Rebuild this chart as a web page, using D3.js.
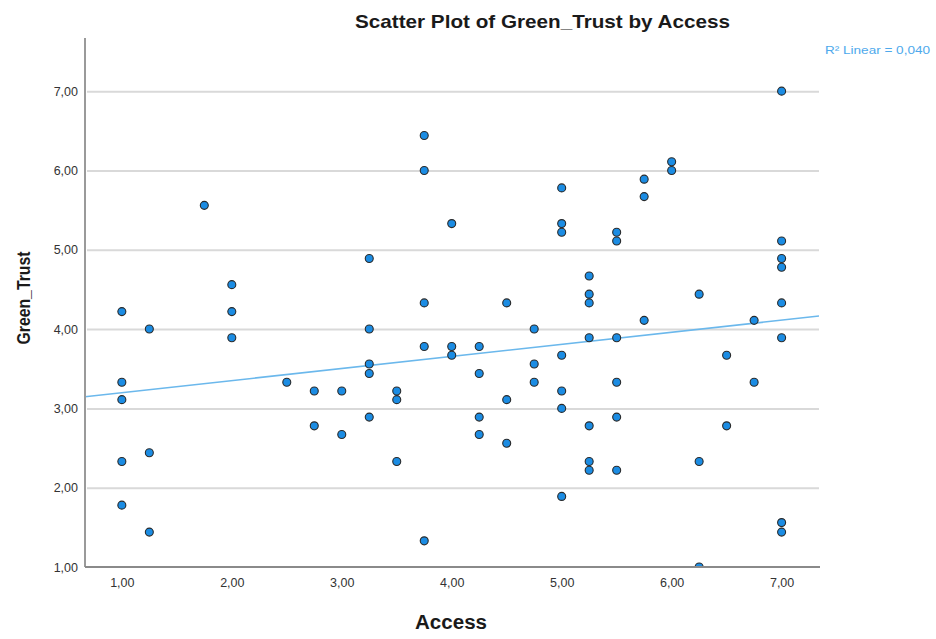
<!DOCTYPE html>
<html>
<head>
<meta charset="utf-8">
<script src="https://cdn.jsdelivr.net/npm/d3@7"></script>
<style>
  html, body { margin: 0; padding: 0; background: #fff; }
  svg { display: block; font-family: "Liberation Sans", Arial, sans-serif; }
</style>
</head>
<body>
<svg id="chart" width="936" height="639"></svg>
<script>
// ---- data ----
const access = [
  1.00, 1.00, 1.00, 1.00, 1.00,
  1.25, 1.25, 1.25,
  1.75,
  2.00, 2.00, 2.00,
  2.50,
  2.75, 2.75,
  3.00, 3.00,
  3.25, 3.25, 3.25, 3.25, 3.25,
  3.50, 3.50, 3.50,
  3.75, 3.75, 3.75, 3.75, 3.75,
  4.00, 4.00, 4.00,
  4.25, 4.25, 4.25, 4.25,
  4.50, 4.50, 4.50,
  4.75, 4.75, 4.75,
  5.00, 5.00, 5.00, 5.00, 5.00, 5.00, 5.00,
  5.25, 5.25, 5.25, 5.25, 5.25, 5.25, 5.25,
  5.50, 5.50, 5.50, 5.50, 5.50, 5.50,
  5.75, 5.75, 5.75,
  6.00, 6.00,
  6.25, 6.25, 6.25,
  6.50, 6.50,
  6.75, 6.75,
  7.00, 7.00, 7.00, 7.00, 7.00, 7.00, 7.00, 7.00
];
const greenTrust = [
  4.22, 3.33, 3.11, 2.33, 1.78,
  4.00, 2.44, 1.44,
  5.56,
  4.56, 4.22, 3.89,
  3.33,
  3.22, 2.78,
  3.22, 2.67,
  4.89, 4.00, 3.56, 3.44, 2.89,
  3.22, 3.11, 2.33,
  6.44, 6.00, 4.33, 3.78, 1.33,
  5.33, 3.78, 3.67,
  3.78, 3.44, 2.89, 2.67,
  4.33, 3.11, 2.56,
  4.00, 3.56, 3.33,
  5.78, 5.33, 5.22, 3.67, 3.22, 3.00, 1.89,
  4.67, 4.44, 4.33, 3.89, 2.78, 2.33, 2.22,
  5.22, 5.11, 3.89, 3.33, 2.89, 2.22,
  5.89, 5.67, 4.11,
  6.11, 6.00,
  4.44, 2.33, 1.00,
  3.67, 2.78,
  4.11, 3.33,
  7.00, 5.11, 4.89, 4.78, 4.33, 3.89, 1.56, 1.44
];
const xTickValues = [1, 2, 3, 4, 5, 6, 7];
const xTickLabels = ["1,00", "2,00", "3,00", "4,00", "5,00", "6,00", "7,00"];
const yTickValues = [1, 2, 3, 4, 5, 6, 7];
const yTickLabels = ["1,00", "2,00", "3,00", "4,00", "5,00", "6,00", "7,00"];
const fitIntercept = 3.045;
const fitSlope = 0.1525;
const fitLabel = "R\u00B2 Linear = 0,040";
const titleText = "Scatter Plot of Green_Trust by Access";
const xLabel = "Access";
const yLabel = "Green_Trust";

// ---- layout ----
const svg = d3.select("#chart");
const pLeft = 85, pRight = 819, pTop = 38, pBottom = 567;
const xDomain = [0.665, 7.34];
const yDomain = [1, 7.67];

const x = d3.scaleLinear().domain(xDomain).range([pLeft, pRight]);
const y = d3.scaleLinear().domain(yDomain).range([pBottom, pTop]);

// gridlines
const grid = svg.append("g")
  .attr("transform", `translate(${pLeft + 2},0)`)
  .call(d3.axisLeft(y).tickValues(yTickValues.filter(v => v > yDomain[0]))
        .tickSize(-(pRight - pLeft - 2)).tickFormat(""));
grid.select(".domain").remove();
grid.selectAll("line").attr("stroke", "#d9d9d9").attr("stroke-width", 2);

// y tick labels
const yAx = svg.append("g")
  .attr("transform", `translate(${pLeft},0)`)
  .call(d3.axisLeft(y).tickValues(yTickValues).tickSize(0).tickPadding(7)
        .tickFormat((d, i) => yTickLabels[i]));
yAx.select(".domain").remove();
yAx.selectAll("text").attr("font-size", 12.5).attr("fill", "#333")
   .attr("font-family", "Liberation Sans, Arial, sans-serif");

// x tick labels
const xAx = svg.append("g")
  .attr("transform", `translate(0,${pBottom})`)
  .call(d3.axisBottom(x).tickValues(xTickValues).tickSize(0).tickPadding(11)
        .tickFormat((d, i) => xTickLabels[i]));
xAx.select(".domain").remove();
xAx.selectAll("text").attr("font-size", 12.5).attr("fill", "#333")
   .attr("font-family", "Liberation Sans, Arial, sans-serif");

// clip
svg.append("clipPath").attr("id", "plotClip")
  .append("rect").attr("x", pLeft).attr("y", pTop)
  .attr("width", pRight - pLeft).attr("height", pBottom - pTop);

// regression line
svg.append("line")
  .attr("clip-path", "url(#plotClip)")
  .attr("x1", x(xDomain[0])).attr("y1", y(fitIntercept + fitSlope * xDomain[0]))
  .attr("x2", x(xDomain[1])).attr("y2", y(fitIntercept + fitSlope * xDomain[1]))
  .attr("stroke", "#6bb8ec").attr("stroke-width", 1.6);

// points
const pts = access.map((a, i) => ({ a, g: greenTrust[i] }));
svg.append("g").attr("clip-path", "url(#plotClip)")
  .selectAll("circle").data(pts).enter().append("circle")
  .attr("cx", d => x(d.a)).attr("cy", d => y(d.g))
  .attr("r", 4)
  .attr("fill", "#1b8ce3")
  .attr("stroke", "#2a2a2a").attr("stroke-width", 1.1);

// axis lines
svg.append("line")
  .attr("x1", pLeft).attr("x2", pLeft).attr("y1", pTop).attr("y2", pBottom)
  .attr("stroke", "#9a9a9a").attr("stroke-width", 2);
svg.append("line")
  .attr("x1", pLeft).attr("x2", pRight + 1).attr("y1", pBottom).attr("y2", pBottom)
  .attr("stroke", "#8a8a8a").attr("stroke-width", 2);

// title
svg.append("text")
  .attr("x", 542.5).attr("y", 28)
  .attr("text-anchor", "middle")
  .attr("font-size", 19).attr("font-weight", "bold").attr("fill", "#1a1a1a")
  .attr("textLength", 375).attr("lengthAdjust", "spacingAndGlyphs")
  .text(titleText);

// x label
svg.append("text")
  .attr("x", 451).attr("y", 629)
  .attr("text-anchor", "middle")
  .attr("font-size", 20).attr("font-weight", "bold").attr("fill", "#1a1a1a")
  .attr("textLength", 72).attr("lengthAdjust", "spacingAndGlyphs")
  .text(xLabel);

// y label
svg.append("text")
  .attr("transform", "translate(30,298) rotate(-90)")
  .attr("text-anchor", "middle")
  .attr("font-size", 18).attr("font-weight", "bold").attr("fill", "#1a1a1a")
  .attr("textLength", 93).attr("lengthAdjust", "spacingAndGlyphs")
  .text(yLabel);

// fit label
svg.append("text")
  .attr("x", 825).attr("y", 54)
  .attr("font-size", 11.5).attr("fill", "#4ea9ec")
  .attr("textLength", 105).attr("lengthAdjust", "spacingAndGlyphs")
  .text(fitLabel);
</script>
</body>
</html>
